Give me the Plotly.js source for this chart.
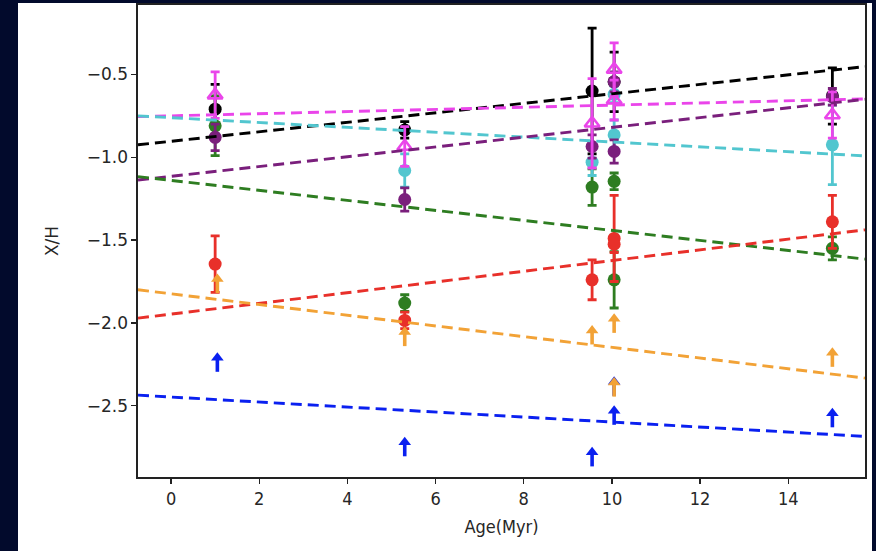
<!DOCTYPE html>
<html>
<head>
<meta charset="utf-8">
<script src="https://cdn.plot.ly/plotly-3.0.1.min.js"></script>
<style>
html,body{margin:0;padding:0;width:876px;height:551px;background:#020a2c;overflow:hidden;}
#chart{position:absolute;left:18px;top:3px;width:854px;height:548px;background:#fff;}
</style>
</head>
<body>
<div id="chart"></div>
<script>
// Measurement points (Age in Myr, X/H, error)
const blackX = [1, 5.3, 9.55, 10.05, 15];
const blackY = [-0.71, -0.835, -0.60, -0.545, -0.63];
const blackErr = [0.15, 0.05, 0.38, 0.18, 0.17];

const cyanX = [5.3, 9.55, 10.05, 10.05, 15];
const cyanY = [-1.08, -1.03, -0.865, -0.62, -0.925];
const cyanErr = [0.10, 0.08, 0.09, 0.05, 0.24];

const purpleX = [1, 5.3, 9.55, 10.05, 10.05, 15];
const purpleY = [-0.88, -1.255, -0.935, -0.545, -0.965, -0.635];
const purpleErr = [0.08, 0.07, 0.07, 0.06, 0.07, 0.05];

const greenX = [1, 5.3, 9.55, 10.05, 10.05, 15];
const greenY = [-0.81, -1.88, -1.18, -1.145, -1.74, -1.55];
const greenErr = [0.18, 0.05, 0.11, 0.05, 0.17, 0.07];

const redX = [1, 5.3, 9.55, 10.05, 10.05, 15];
const redY = [-1.645, -1.985, -1.74, -1.49, -1.525, -1.39];
const redErr = [0.17, 0.05, 0.12, 0.26, 0.05, 0.16];

const magentaX = [1, 5.3, 9.55, 10.05, 10.05, 15];
const magentaY = [-0.625, -0.935, -0.795, -0.47, -0.655, -0.745];
const magentaErr = [0.14, 0.12, 0.27, 0.16, 0.12, 0.14];

// Lower limits (arrows)
const orangeX = [1.05, 5.3, 9.55, 10.05, 10.05, 15];
const orangeLow = [-1.82, -2.14, -2.13, -2.06, -2.445, -2.265];
const blueX = [1.05, 5.3, 9.55, 10.05, 10.05, 15];
const blueLow = [-2.295, -2.805, -2.866, -2.44, -2.615, -2.63];
const arrowLen = 0.085;

// Linear fit lines (endpoints)
const fitX = [-0.75, 15.74];
const fitBlack = [-0.925, -0.453];
const fitMagenta = [-0.755, -0.648];
const fitCyan = [-0.75, -0.992];
const fitPurple = [-1.137, -0.65];
const fitGreen = [-1.117, -1.615];
const fitRed = [-1.971, -1.438];
const fitOrange = [-1.80, -2.333];
const fitBlue = [-2.436, -2.685];

const C = {
  black: '#000000', magenta: '#ea45ea', cyan: '#52c6cf', purple: '#7a1f7c',
  green: '#2e7d21', red: '#e8302a', orange: '#f2a236', blue: '#0a20f0'
};

function pts(x, y, err, color, symbol) {
  const open = symbol && symbol.indexOf('open') >= 0;
  return {
    type: 'scatter', mode: 'markers', x: x, y: y, showlegend: false,
    error_y: {type: 'data', array: err, visible: true, color: color, thickness: 2.8, width: 4.5},
    marker: open ? {symbol: symbol, size: 13, color: color, line: {color: color, width: 2.6}}
                 : {symbol: 'circle', size: 13, color: color, line: {width: 0}}
  };
}
function arrows(x, low, color) {
  const tip = low.map(v => v + arrowLen);
  return [
    {type: 'scatter', mode: 'markers', x: x, y: low, showlegend: false,
     marker: {size: 1, color: 'rgba(0,0,0,0)'},
     error_y: {type: 'data', symmetric: false, array: low.map(() => arrowLen), arrayminus: low.map(() => 0),
               visible: true, color: color, thickness: 3.6, width: 0}},
    {type: 'scatter', mode: 'markers', x: x, y: tip, showlegend: false,
     marker: {symbol: 'triangle-up', size: 11, color: color, line: {width: 0}}}
  ];
}
function fit(y, color) {
  return {type: 'scatter', mode: 'lines', x: fitX, y: y, showlegend: false,
          line: {color: color, width: 2.9, dash: '11px,6px'}};
}

const data = [
  pts(blackX, blackY, blackErr, C.black),
  pts(greenX, greenY, greenErr, C.green),
  pts(redX, redY, redErr, C.red),
  pts(cyanX, cyanY, cyanErr, C.cyan),
  pts(purpleX, purpleY, purpleErr, C.purple),
  pts(magentaX, magentaY, magentaErr, C.magenta, 'triangle-up-open'),
  ...arrows(blueX, blueLow, C.blue),
  ...arrows(orangeX, orangeLow, C.orange),
  fit(fitBlack, C.black),
  fit(fitMagenta, C.magenta),
  fit(fitCyan, C.cyan),
  fit(fitPurple, C.purple),
  fit(fitGreen, C.green),
  fit(fitRed, C.red),
  fit(fitOrange, C.orange),
  fit(fitBlue, C.blue)
];

const axisCommon = {
  showgrid: false, zeroline: false, showline: true, mirror: true,
  linecolor: '#222', linewidth: 1.6, ticks: 'outside', ticklen: 5, tickwidth: 1.4,
  tickcolor: '#222'
};

const layout = {
  width: 854, height: 548,
  margin: {l: 120, r: 7, t: 2, b: 74},
  paper_bgcolor: '#ffffff', plot_bgcolor: '#ffffff',
  font: {family: 'DejaVu Sans', color: '#262626'},
  xaxis: Object.assign({}, axisCommon, {
    range: [-0.75, 15.74], tickvals: [0, 2, 4, 6, 8, 10, 12, 14],
    tickfont: {family: 'DejaVu Sans Condensed, DejaVu Sans', size: 18},
    title: {text: 'Age(Myr)', font: {family: 'DejaVu Sans Condensed, DejaVu Sans', size: 18}, standoff: 12}
  }),
  yaxis: Object.assign({}, axisCommon, {
    range: [-2.93, -0.081], tickvals: [-0.5, -1.0, -1.5, -2.0, -2.5],
    ticktext: ['\u22120.5', '\u22121.0', '\u22121.5', '\u22122.0', '\u22122.5'],
    tickfont: {family: 'DejaVu Sans', size: 17},
    title: {text: 'X/H', font: {family: 'DejaVu Sans', size: 17}, standoff: 24}
  })
};

Plotly.newPlot('chart', data, layout, {staticPlot: true, displayModeBar: false});
</script>
</body>
</html>
